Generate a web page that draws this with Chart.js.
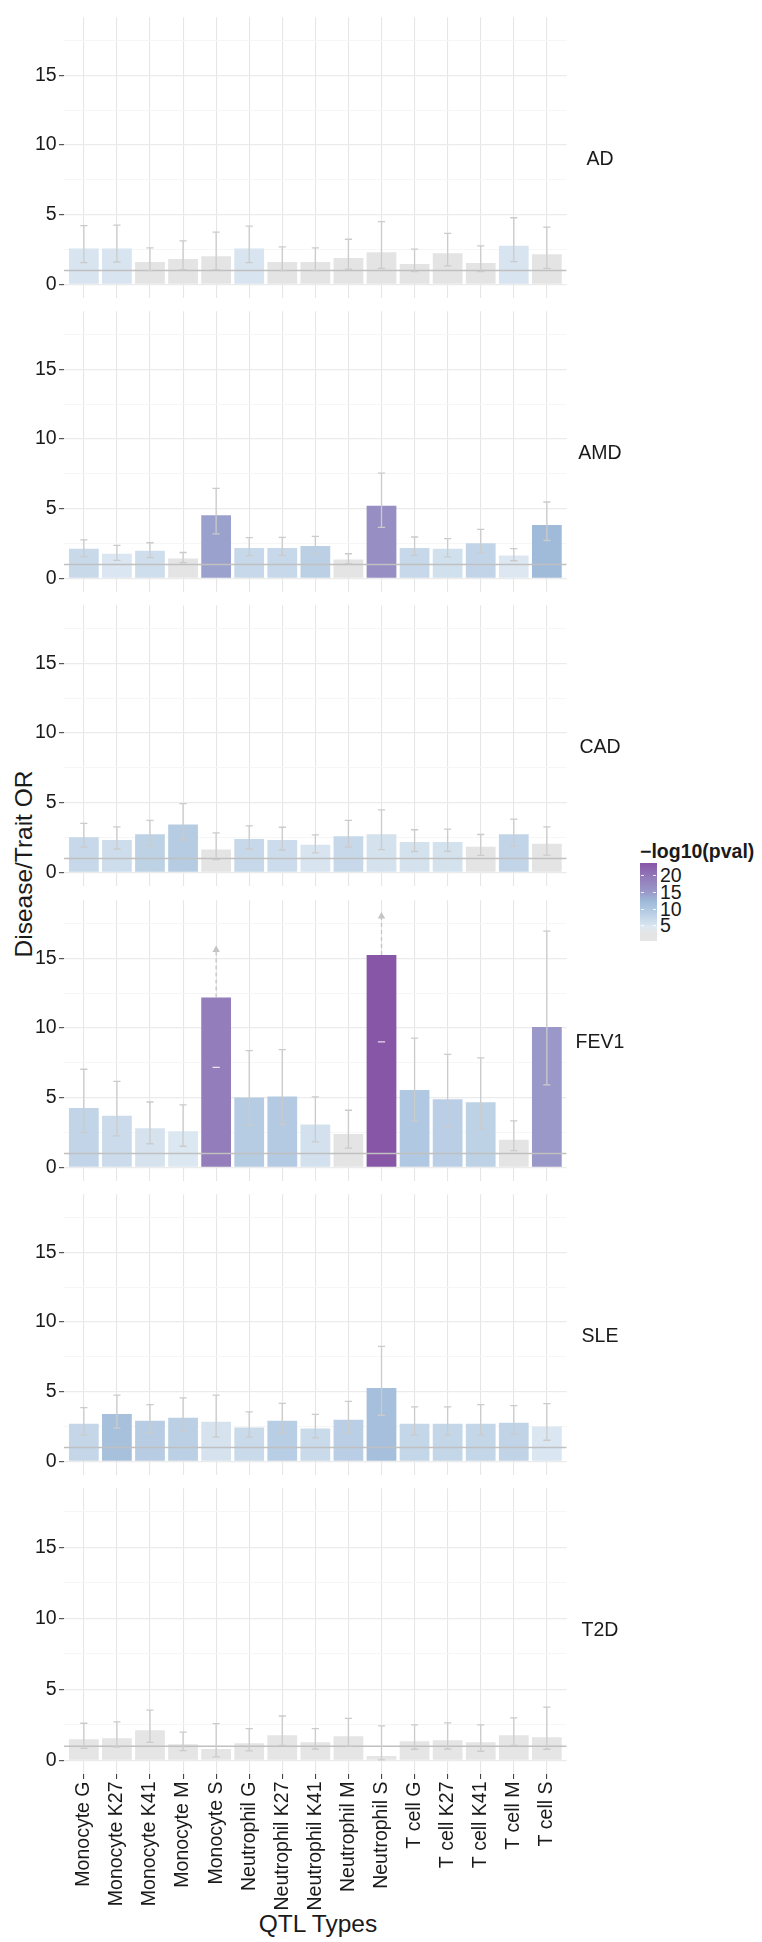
<!DOCTYPE html>
<html>
<head>
<meta charset="utf-8">
<title>QTL enrichment by trait</title>
<style>
  body { margin: 0; background: #fff; font-family: 'Liberation Sans', Arial, Helvetica, sans-serif; color: #1a1a1a; }
  #page { position: relative; width: 762px; height: 1942px; overflow: hidden; }
  #page canvas { position: absolute; left: 0; }
  .strip { position: absolute; left: 570px; width: 60px; height: 24px; line-height: 24px; text-align: center; font-size: 19.5px; }
  .title { position: absolute; width: 300px; height: 30px; line-height: 30px; text-align: center; font-size: 24.5px; }
  #ytitle { left: -126px; top: 849px; transform: rotate(-90deg); }
  #xtitle { left: 168px; top: 1909px; }
  #legend-title { position: absolute; left: 640px; top: 839px; height: 24px; line-height: 24px; font-size: 19.5px; font-weight: bold; white-space: nowrap; }
  #colorbar { position: absolute; left: 640px; top: 863px; width: 17px; height: 78px; }
  .lg-label { position: absolute; left: 660px; height: 24px; line-height: 24px; font-size: 19.5px; }
  .lg-tick { position: absolute; width: 3px; height: 1px; background: rgba(255,255,255,0.85); }
</style>
<script src="https://cdn.jsdelivr.net/npm/chart.js@4.4.1/dist/chart.umd.min.js"></script>
</head>
<body>
<div id="page">
  <div id="ytitle" class="title">Disease/Trait OR</div>
  <div id="xtitle" class="title">QTL Types</div>
  <div id="legend-title">&minus;log10(pval)</div>
  <div id="colorbar"></div>
</div>

<script>
const qtlTypes = ['Monocyte G', 'Monocyte K27', 'Monocyte K41', 'Monocyte M', 'Monocyte S',
  'Neutrophil G', 'Neutrophil K27', 'Neutrophil K41', 'Neutrophil M', 'Neutrophil S',
  'T cell G', 'T cell K27', 'T cell K41', 'T cell M', 'T cell S'];
const traits = ['AD', 'AMD', 'CAD', 'FEV1', 'SLE', 'T2D'];

// odds ratio (bar height)
const orAD   = [2.57, 2.57, 1.61, 1.82, 2.02, 2.57, 1.61, 1.61, 1.89, 2.30, 1.47, 2.23, 1.54, 2.78, 2.16];
const orAMD  = [2.12, 1.77, 1.98, 1.43, 4.53, 2.19, 2.19, 2.33, 1.36, 5.22, 2.19, 2.12, 2.53, 1.64, 3.84];
const orCAD  = [2.53, 2.33, 2.74, 3.43, 1.64, 2.39, 2.33, 1.98, 2.60, 2.74, 2.19, 2.19, 1.84, 2.74, 2.05];
const orFEV1 = [4.26, 3.71, 2.81, 2.60, 12.19, 5.02, 5.09, 3.08, 2.39, 15.23, 5.56, 4.88, 4.67, 1.98, 10.06];
const orSLE  = [2.71, 3.40, 2.92, 3.13, 2.85, 2.44, 2.92, 2.37, 2.99, 5.27, 2.71, 2.71, 2.71, 2.78, 2.50];
const orT2D  = [1.50, 1.57, 2.12, 1.15, 0.81, 1.22, 1.77, 1.29, 1.70, 0.32, 1.36, 1.43, 1.29, 1.77, 1.64];

// confidence interval bounds
const lowAD   = [1.56, 1.61, 0.99, 1.06, 1.06, 1.56, 0.99, 0.99, 1.10, 1.15, 0.92, 1.33, 0.92, 1.63, 1.15];
const highAD  = [4.21, 4.25, 2.62, 3.13, 3.75, 4.18, 2.69, 2.62, 3.24, 4.51, 2.53, 3.66, 2.76, 4.78, 4.11];
const lowAMD  = [1.57, 1.29, 1.50, 1.13, 3.20, 1.64, 1.66, 1.75, 1.06, 3.66, 1.66, 1.55, 1.84, 1.27, 2.72];
const highAMD = [2.76, 2.37, 2.56, 1.86, 6.45, 2.93, 2.95, 3.02, 1.77, 7.55, 2.97, 2.86, 3.52, 2.14, 5.48];
const lowCAD  = [1.82, 1.68, 1.91, 2.33, 0.92, 1.68, 1.61, 1.41, 1.82, 1.64, 1.50, 1.52, 1.22, 1.89, 1.24];
const highCAD = [3.52, 3.27, 3.73, 4.93, 2.83, 3.34, 3.24, 2.69, 3.73, 4.49, 3.06, 3.11, 2.72, 3.82, 3.27];
const lowFEV1  = [2.51, 2.26, 1.70, 1.52, 7.18, 3.02, 3.08, 1.84, 1.38, 9.00, 3.34, 2.93, 2.76, 1.20, 5.92];
const highFEV1 = [7.04, 6.17, 4.69, 4.49, null, 8.38, 8.45, 5.06, 4.10, null, 9.27, 8.10, 7.85, 3.34, 16.94];
const lowSLE  = [1.91, 2.39, 2.07, 2.14, 1.75, 1.75, 2.07, 1.70, 2.07, 3.31, 1.88, 1.88, 1.88, 1.97, 1.52];
const highSLE = [3.86, 4.76, 4.07, 4.55, 4.76, 3.56, 4.16, 3.38, 4.30, 8.25, 3.91, 3.91, 4.07, 4.00, 4.14];
const lowT2D  = [0.85, 0.95, 1.27, 0.69, 0.26, 0.67, 1.06, 0.81, 1.01, 0.05, 0.79, 0.81, 0.65, 1.06, 0.79];
const highT2D = [2.62, 2.72, 3.55, 2.00, 2.60, 2.24, 3.13, 2.24, 2.97, 2.44, 2.51, 2.65, 2.51, 3.00, 3.76];

// upper CI off the chart: dashed arrow up to here
const arrowFEV1 = [null, null, null, null, 15.6, null, null, null, null, 18.0, null, null, null, null, null];

// -log10(pval), drives the fill colour
const logpAD   = [5, 5, 1.5, 1.5, 1.5, 5, 1.5, 1.5, 1.5, 1.5, 1.5, 1.5, 1.5, 5, 1.5];
const logpAMD  = [6.8, 4.8, 6, 1.5, 14.2, 7, 7, 8.3, 1.5, 16.5, 7, 5.8, 7.5, 4.6, 12];
const logpCAD  = [7, 6.2, 8, 9, 1.5, 7, 6.3, 5, 7, 5.5, 5.5, 5.5, 2, 7.5, 2];
const logpFEV1 = [7.5, 6.5, 5.3, 4.7, 19, 9, 9.3, 5.6, 2, 23.6, 9.7, 8.5, 8, 2, 15];
const logpSLE  = [7.3, 11, 8.8, 8.3, 5.3, 6.7, 8.7, 6.7, 8.5, 11.2, 7.2, 7.2, 7.2, 7.8, 4.8];
const logpT2D  = [1, 1, 1, 1, 1, 1, 1, 1, 1, 1, 1, 1, 1, 1, 1];

const refOR = 1;
const yTickLabels = [0, 5, 10, 15];
const yGridValues = [0, 2.5, 5, 7.5, 10, 12.5, 15, 17.5];
const legendTicks = [5, 10, 15, 20];
const legendRange = [0.3, 23.6];

const panels = [
  { name: 'AD', or: orAD, low: lowAD, high: highAD, logp: logpAD },
  { name: 'AMD', or: orAMD, low: lowAMD, high: highAMD, logp: logpAMD },
  { name: 'CAD', or: orCAD, low: lowCAD, high: highCAD, logp: logpCAD },
  { name: 'FEV1', or: orFEV1, low: lowFEV1, high: highFEV1, logp: logpFEV1, arrow: arrowFEV1 },
  { name: 'SLE', or: orSLE, low: lowSLE, high: highSLE, logp: logpSLE },
  { name: 'T2D', or: orT2D, low: lowT2D, high: highT2D, logp: logpT2D }
];

// layout
const FONT = "'Liberation Sans', Arial, Helvetica, sans-serif";
const panelH = 291, panelPitch = 294.28, firstTop = 11.7;
const axisW = 64, plotRight = 572, bottomAxisH = 165;
const xMin = 0.4, xMax = 15.6, yMin = -0.95, yMax = 19.15;
const errColor = '#cbcbcb';

// colour scale for -log10(pval)
const fillStops = [[0.3, '#e5e5e5'], [2.5, '#e4e4e4'], [4.5, '#dde8f2'], [7, '#c6d8e9'],
  [9.5, '#b2c9e2'], [12, '#9fbbd9'], [15, '#9a98c9'], [19, '#937dba'], [23.6, '#8856a7']];

function hexToRgb(h) {
  return [1, 3, 5].map(i => parseInt(h.slice(i, i + 2), 16));
}

function fillColor(v) {
  if (v <= fillStops[0][0]) return fillStops[0][1];
  for (let i = 1; i < fillStops.length; i++) {
    if (v <= fillStops[i][0]) {
      const [v0, c0] = fillStops[i - 1], [v1, c1] = fillStops[i];
      const t = (v - v0) / (v1 - v0);
      const a = hexToRgb(c0), b = hexToRgb(c1);
      return 'rgb(' + a.map((x, j) => Math.round(x + (b[j] - x) * t)).join(',') + ')';
    }
  }
  return fillStops[fillStops.length - 1][1];
}

const page = document.getElementById('page');
const isMajor = v => yTickLabels.includes(v);

panels.forEach((p, k) => {
  const isBottom = k === panels.length - 1;
  const top = Math.round(firstTop + panelPitch * k);

  const canvas = document.createElement('canvas');
  canvas.width = plotRight;
  canvas.height = panelH + (isBottom ? bottomAxisH : 0);
  canvas.style.top = top + 'px';
  page.appendChild(canvas);

  const strip = document.createElement('div');
  strip.className = 'strip';
  strip.textContent = p.name;
  strip.style.top = (top + panelH / 2 - 12) + 'px';
  page.appendChild(strip);

  const datasets = [];

  // bars
  datasets.push({
    type: 'bar',
    data: qtlTypes.map((_, i) => ({ x: i + 1, y: p.or[i] })),
    backgroundColor: p.logp.map(fillColor),
    borderWidth: 0,
    grouped: false,
    barPercentage: 0.9,
    categoryPercentage: 1,
    order: 10
  });

  // OR = 1 reference line
  datasets.push({
    type: 'line',
    data: [{ x: xMin, y: refOR }, { x: xMax, y: refOR }],
    borderColor: '#c0c0c0',
    borderWidth: 1.4,
    pointRadius: 0,
    order: 6
  });

  // error bar stems
  const stems = [];
  p.high.forEach((h, i) => { if (h !== null) stems.push({ x: i + 1, y: [p.low[i], h] }); });
  datasets.push({
    type: 'bar',
    data: stems,
    backgroundColor: errColor,
    borderWidth: 0,
    grouped: false,
    maxBarThickness: 1.3,
    order: 4
  });

  // error bar caps
  const caps = [], capsOnDark = [];
  p.low.forEach((lo, i) => {
    if (p.high[i] === null) {
      capsOnDark.push({ x: i + 1, y: lo });
    } else {
      caps.push({ x: i + 1, y: lo });
      caps.push({ x: i + 1, y: p.high[i] });
    }
  });
  datasets.push({
    type: 'line', data: caps, showLine: false,
    pointStyle: 'line', pointRadius: 3.6, pointBorderWidth: 1.3,
    pointBorderColor: errColor, order: 3
  });
  if (capsOnDark.length) {
    datasets.push({
      type: 'line', data: capsOnDark, showLine: false,
      pointStyle: 'line', pointRadius: 3.6, pointBorderWidth: 1.3,
      pointBorderColor: 'rgba(255,255,255,0.8)', order: 3
    });
  }

  // arrows for CIs running off the chart
  if (p.arrow) {
    p.arrow.forEach((end, i) => {
      if (end === null) return;
      datasets.push({
        type: 'line',
        data: [{ x: i + 1, y: p.or[i] }, { x: i + 1, y: end }],
        borderColor: '#c4c4c4',
        borderWidth: 1.3,
        borderDash: [4, 3],
        pointRadius: [0, 4.3],
        pointStyle: 'triangle',
        pointBackgroundColor: '#c4c4c4',
        pointBorderWidth: 0,
        order: 2
      });
    });
  }

  new Chart(canvas, {
    type: 'bar',
    data: { datasets },
    options: {
      responsive: false,
      animation: false,
      events: [],
      layout: { padding: 0 },
      plugins: { legend: { display: false }, tooltip: { enabled: false } },
      scales: {
        x: {
          type: 'linear',
          min: xMin,
          max: xMax,
          offset: false,
          border: { display: false },
          grid: {
            offset: false,
            color: '#e6e6e6',
            lineWidth: 1.1,
            drawTicks: isBottom,
            tickLength: 5,
            tickColor: '#444',
            tickWidth: 1.1
          },
          ticks: {
            display: isBottom,
            autoSkip: false,
            maxRotation: 90,
            minRotation: 90,
            padding: 2.5,
            color: '#1a1a1a',
            font: { family: FONT, size: 19.5 },
            callback: v => qtlTypes[v - 1] || ''
          },
          afterBuildTicks: s => { s.ticks = qtlTypes.map((_, i) => ({ value: i + 1 })); },
          afterFit: s => { s.height = isBottom ? bottomAxisH : 0; s.paddingLeft = 0; s.paddingRight = 0; }
        },
        y: {
          type: 'linear',
          min: yMin,
          max: yMax,
          border: { display: false },
          grid: {
            color: c => (c.tick && isMajor(c.tick.value)) ? '#ebebeb' : '#f6f6f6',
            lineWidth: c => (c.tick && isMajor(c.tick.value)) ? 1.3 : 1,
            tickLength: 5,
            tickColor: c => (c.tick && isMajor(c.tick.value)) ? '#444' : 'rgba(0,0,0,0)',
            tickWidth: 1.1
          },
          ticks: {
            autoSkip: false,
            padding: 2.3,
            color: '#1a1a1a',
            font: { family: FONT, size: 19.5 },
            callback: v => isMajor(v) ? String(v) : ''
          },
          afterBuildTicks: s => { s.ticks = yGridValues.map(v => ({ value: v })); },
          afterFit: s => { s.width = axisW; s.paddingTop = 0; s.paddingBottom = 0; }
        }
      }
    }
  });
});

// colour bar legend
const bar = document.getElementById('colorbar');
const span = legendRange[1] - legendRange[0];
const pct = v => ((v - legendRange[0]) / span) * 100;
bar.style.background = 'linear-gradient(to top, ' +
  fillStops.map(([v, c]) => c + ' ' + Math.max(0, pct(v)).toFixed(1) + '%').join(', ') + ')';

const barTop = 863, barH = 78, barLeft = 640, barW = 17;
legendTicks.forEach(v => {
  const y = barTop + barH * (1 - pct(v) / 100);
  const lab = document.createElement('div');
  lab.className = 'lg-label';
  lab.textContent = v;
  lab.style.top = (y - 12) + 'px';
  page.appendChild(lab);
  [barLeft + 1, barLeft + barW - 4].forEach(x => {
    const t = document.createElement('div');
    t.className = 'lg-tick';
    t.style.left = x + 'px';
    t.style.top = Math.round(y) + 'px';
    page.appendChild(t);
  });
});
</script>
</body>
</html>
